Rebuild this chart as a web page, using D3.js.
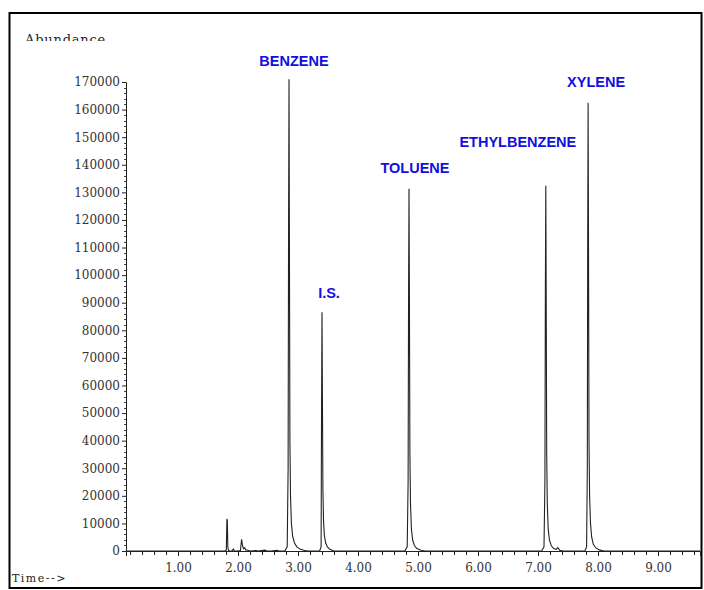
<!DOCTYPE html>
<html>
<head>
<meta charset="utf-8">
<script src="https://cdn.jsdelivr.net/npm/d3@7"></script>
<style>
	body { margin: 0; background: #fff; }
	svg { display: block; }
</style>
</head>
<body>
<svg class="chromatogram"></svg>
<script>

// retention time (min) and abundance
let traceTime = [0.13, 1.78, 1.805, 1.815, 1.822, 1.83, 1.84, 1.86, 1.90, 1.92, 1.94, 1.98,
	2.04, 2.06, 2.075, 2.09, 2.11, 2.13, 2.16, 2.20, 2.30, 2.33, 2.45, 2.48, 2.55, 2.65, 2.68,
	2.78, 2.82, 2.835, 2.843, 2.85, 2.857, 2.865, 2.875, 2.89, 2.91, 2.94, 2.98, 3.03, 3.10, 3.16,
	3.36, 3.385, 3.392, 3.40, 3.407, 3.415, 3.425, 3.44, 3.46, 3.49, 3.53, 3.60,
	4.78, 4.82, 4.835, 4.843, 4.85, 4.857, 4.865, 4.875, 4.89, 4.91, 4.94, 4.98, 5.05, 5.12,
	7.06, 7.10, 7.115, 7.123, 7.13, 7.137, 7.145, 7.155, 7.17, 7.19, 7.22, 7.26, 7.30, 7.33, 7.36, 7.42,
	7.78, 7.81, 7.822, 7.828, 7.835, 7.842, 7.85, 7.86, 7.875, 7.895, 7.92, 7.96, 8.02, 8.10, 9.70];

let traceAbundance = [0, 0, 300, 11600, 11000, 1500, 300, 0, 0, 700, 100, 0,
	200, 4200, 2000, 800, 1200, 400, 300, 0, 200, 0, 300, 0, 0, 250, 0,
	0, 1500, 30000, 120000, 171000, 110000, 40000, 20000, 10000, 5500, 3000, 1500, 700, 300, 0,
	0, 1500, 50000, 86500, 55000, 22000, 11000, 5500, 3000, 1500, 600, 0,
	0, 1500, 25000, 95000, 131300, 90000, 35000, 17000, 8000, 4000, 2000, 900, 300, 0,
	0, 1500, 25000, 95000, 132400, 90000, 35000, 17000, 8000, 4000, 2000, 900, 600, 1200, 300, 0,
	0, 1500, 30000, 110000, 162500, 110000, 40000, 20000, 10000, 5000, 2500, 1200, 400, 0, 0];

// named peaks
let peakNames = ["BENZENE", "I.S.", "TOLUENE", "ETHYLBENZENE", "XYLENE"];
let peakTimes = [2.85, 3.40, 4.85, 7.13, 7.835];
let peakHeights = [171000, 86500, 131300, 132400, 162500];

// axis ticks
let yTickValues = [0, 10000, 20000, 30000, 40000, 50000, 60000, 70000, 80000, 90000,
	100000, 110000, 120000, 130000, 140000, 150000, 160000, 170000];
let xTickLabels = ["1.00", "2.00", "3.00", "4.00", "5.00", "6.00", "7.00", "8.00", "9.00"];

let width = 704;
let height = 590;

let svg = d3.select(".chromatogram")
	.attr("width", width)
	.attr("height", height);

// outer frame
svg.append("rect")
	.attr("x", 9.5)
	.attr("y", 13)
	.attr("width", 692)
	.attr("height", 575)
	.style("fill", "none")
	.style("stroke", "#000")
	.style("stroke-width", 2);

// scales
let xScale = d3.scaleLinear()
	.domain([0.133, 9.7])
	.range([126, 700]);

let yScale = d3.scaleLinear()
	.domain([0, 170000])
	.range([551, 82]);

// minor y ticks
let yMinor = d3.range(2000, 172000, 2000).filter(function(d) { return d % 10000 !== 0; });
svg.append("g")
	.selectAll("line")
	.data(yMinor)
	.enter().append("line")
	.attr("x1", xScale.range()[0] - 2)
	.attr("x2", xScale.range()[0])
	.attr("y1", function(d) { return Math.round(yScale(d)) + 0.5; })
	.attr("y2", function(d) { return Math.round(yScale(d)) + 0.5; })
	.style("stroke", "#444")
	.style("stroke-width", 1);

// y axis
let yAxis = d3.axisLeft(yScale)
	.tickValues(yTickValues)
	.tickSize(4)
	.tickPadding(2)
	.tickFormat(function(d) { return d; });

svg.append("g")
	.attr("class", "y-axis")
	.attr("transform", "translate(" + xScale.range()[0] + ",0)")
	.call(yAxis);

// x axis, minor ticks every 0.2 min
let xMinor = d3.range(2, 97, 2).map(function(d) { return d / 10; })
	.filter(function(d) { return Math.abs(d - Math.round(d)) > 0.01; });

let xAxisMinor = d3.axisBottom(xScale)
	.tickValues(xMinor)
	.tickSize(4)
	.tickFormat("");

svg.append("g")
	.attr("class", "x-axis-minor")
	.attr("transform", "translate(0," + yScale(0) + ")")
	.call(xAxisMinor)
	.select(".domain").remove();

let xAxis = d3.axisBottom(xScale)
	.tickValues(xTickLabels.map(Number))
	.tickSize(5)
	.tickPadding(7)
	.tickFormat(function(d, i) { return xTickLabels[i]; });

svg.append("g")
	.attr("class", "x-axis")
	.attr("transform", "translate(0," + yScale(0) + ")")
	.call(xAxis);

svg.selectAll(".y-axis text, .x-axis text")
	.style("font-family", "DejaVu Serif")
	.style("font-size", "12px")
	.style("fill", "#333");

svg.selectAll(".domain, .tick line").style("stroke", "#222");

// chromatogram trace
let points = traceTime.map(function(t, i) { return { x: t, y: traceAbundance[i] }; });

let line = d3.line()
	.x(function(d) { return xScale(d.x); })
	.y(function(d) { return yScale(d.y); });

svg.append("path")
	.data([points])
	.attr("class", "trace")
	.style("fill", "none")
	.style("stroke", "#222")
	.style("stroke-width", 1.1)
	.attr("d", line);

// peak labels, offsets tuned per label
let labelShift = {
	"BENZENE": [5, -13],
	"I.S.": [7, -14],
	"TOLUENE": [6, -16],
	"ETHYLBENZENE": [-28, -39],
	"XYLENE": [8, -16]
};

svg.append("g")
	.selectAll("text")
	.data(peakNames)
	.enter().append("text")
	.attr("x", function(d, i) { return xScale(peakTimes[i]) + labelShift[d][0]; })
	.attr("y", function(d, i) { return yScale(peakHeights[i]) + labelShift[d][1]; })
	.attr("text-anchor", "middle")
	.style("font-family", "Liberation Sans, Arial, sans-serif")
	.style("font-weight", "bold")
	.style("font-size", "14.5px")
	.style("fill", "#1010e0")
	.text(function(d) { return d; });

// axis titles
svg.append("clipPath")
	.attr("id", "abund-clip")
	.append("rect")
	.attr("x", 0).attr("y", 0)
	.attr("width", 200).attr("height", 41);

svg.append("text")
	.attr("x", 25)
	.attr("y", 44)
	.attr("clip-path", "url(#abund-clip)")
	.style("font-family", "DejaVu Serif")
	.style("font-size", "13px")
	.style("letter-spacing", "0.8px")
	.style("fill", "#222")
	.text("Abundance");

svg.append("text")
	.attr("x", 12)
	.attr("y", 582)
	.style("font-family", "DejaVu Serif")
	.style("font-size", "11px")
	.style("letter-spacing", "1.5px")
	.style("fill", "#222")
	.text("Time-->");

</script>
</body>
</html>
